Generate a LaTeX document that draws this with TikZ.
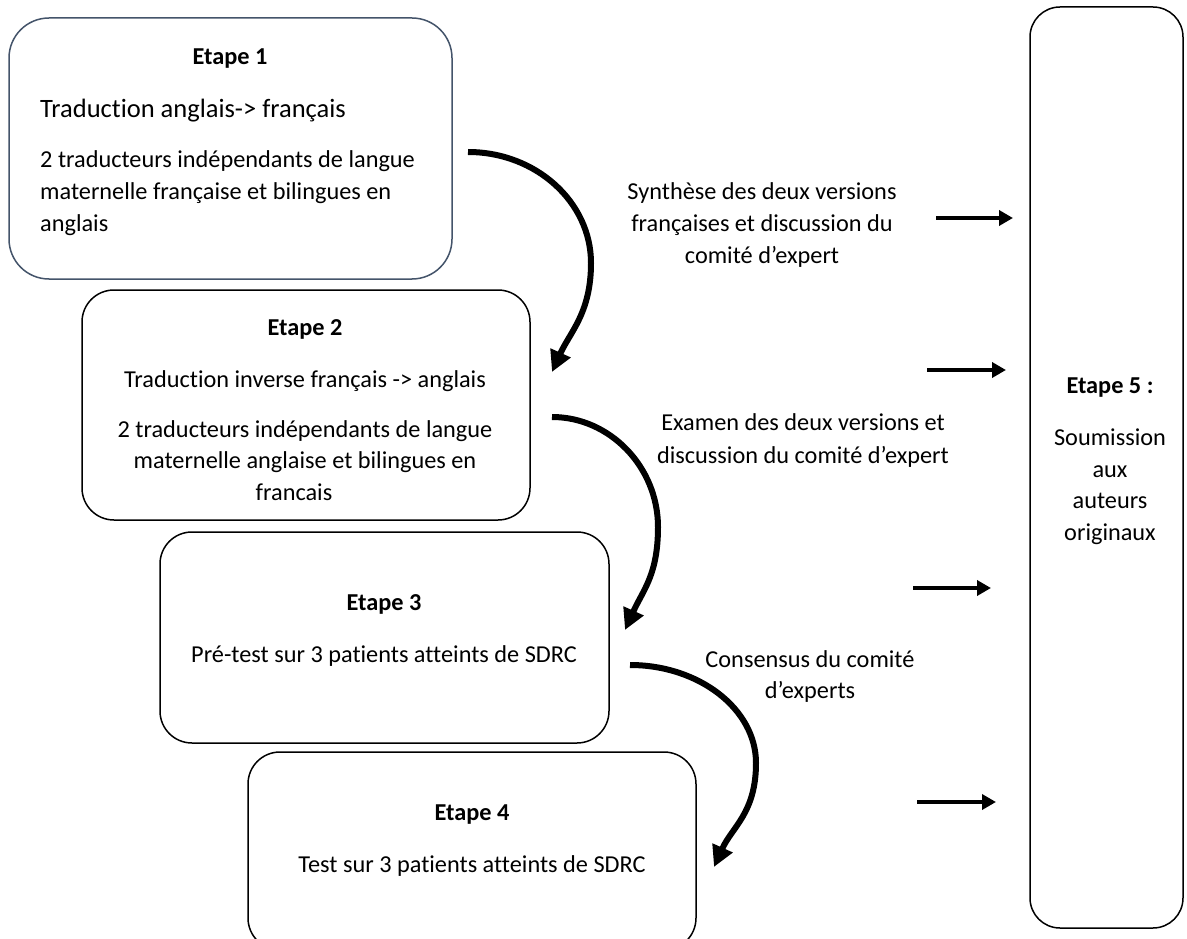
\documentclass[tikz,border=0pt]{standalone}
\usepackage{fontspec}
\setmainfont[Ligatures=NoCommon,RawFeature=-liga]{Carlito}
\usetikzlibrary{arrows.meta}
\definecolor{slate}{RGB}{68,84,106}
\tikzset{
  box/.style={draw=black, line width=1.5pt, rounded corners=32pt, rectangle, inner sep=0pt},
  txt/.style={anchor=base, inner sep=0pt, font=\fontsize{24.3}{32}\selectfont},
  ttl/.style={anchor=base, inner sep=0pt, font=\fontsize{24.3}{32}\selectfont\bfseries},
  curv/.style={line width=6pt, -{Triangle[length=21pt,width=21pt]}},
  strt/.style={line width=4pt, -{Triangle[length=14pt,width=15pt]}}
}
\begin{document}
\begin{tikzpicture}[x=1pt,y=-1pt]
\useasboundingbox (0,0) rectangle (1187,939);
\fill[white] (0,0) rectangle (1187,939);
\clip (0,0) rectangle (1187,939);

% boxes
\node[box, draw=slate, rounded corners=40pt, minimum width=443pt, minimum height=261pt] (b1) at (230.5,148.5) {};
\node[box, minimum width=448pt, minimum height=230pt] (b2) at (306,405) {};
\node[box, minimum width=449pt, minimum height=211pt] (b3) at (384.5,637.5) {};
\node[box, minimum width=448pt, minimum height=198pt] (b4) at (472,851) {};
\node[box, rounded corners=30pt, minimum width=153pt, minimum height=921pt] (b5) at (1106.5,467.5) {};

% box 1 text
\node[ttl] (t1a) at (230,65) {Etape 1};
\node[txt, anchor=base west, font=\fontsize{26.5}{32}\selectfont] (t1b) at (40,118) {Traduction anglais-> français};
\node[txt, anchor=base west] (t1c) at (40,168) {2 traducteurs indépendants de langue};
\node[txt, anchor=base west] (t1d) at (40,200) {maternelle française et bilingues en};
\node[txt, anchor=base west] (t1e) at (40,232) {anglais};

% box 2 text
\node[ttl] (t2a) at (305,335) {Etape 2};
\node[txt] (t2b) at (305,387) {Traduction inverse français -> anglais};
\node[txt] (t2c) at (305,437) {2 traducteurs indépendants de langue};
\node[txt] (t2d) at (305,468) {maternelle anglaise et bilingues en};
\node[txt] (t2e) at (294,500) {francais};

% box 3 text
\node[ttl] (t3a) at (384,610) {Etape 3};
\node[txt] (t3b) at (384,662) {Pré-test sur 3 patients atteints de SDRC};

% box 4 text
\node[ttl] (t4a) at (472,820) {Etape 4};
\node[txt] (t4b) at (472,872) {Test sur 3 patients atteints de SDRC};

% box 5 text
\node[ttl] (t5a) at (1110,393) {Etape 5 :};
\node[txt] (t5b) at (1110,445) {Soumission};
\node[txt] (t5c) at (1110,477) {aux};
\node[txt] (t5d) at (1110,508) {auteurs};
\node[txt] (t5e) at (1110,540) {originaux};

% side labels
\node[txt] (l1a) at (762,200) {Synthèse des deux versions};
\node[txt] (l1b) at (762,232) {françaises et discussion du};
\node[txt] (l1c) at (762,263) {comité d’expert};
\node[txt] (l2a) at (803,430) {Examen des deux versions et};
\node[txt] (l2b) at (803,463) {discussion du comité d’expert};
\node[txt] (l3a) at (810,667) {Consensus du comité};
\node[txt] (l3b) at (810,698) {d’experts};

% curved arrow end points
\coordinate (c1s) at (468,152);
\coordinate (c1e) at (552,372);
\coordinate (c2s) at (552,417);
\coordinate (c2e) at (625,630);
\coordinate (c3s) at (630,665);
\coordinate (c3e) at (714,867);

\draw[curv] (c1s) .. controls (536,152) and (591,202) .. (591,263) .. controls (591,313) and (570,332) .. (c1e);
\draw[curv] (c2s) .. controls (610,417) and (658,467) .. (658,527) .. controls (658,575) and (643,590) .. (c2e);
\draw[curv] (c3s) .. controls (699,665) and (756,709) .. (756,763) .. controls (756,813) and (732,827) .. (c3e);

% straight arrows
\coordinate (s1) at (936,218);
\coordinate (e1) at (1013,218);
\coordinate (s2) at (927,370);
\coordinate (e2) at (1006,370);
\coordinate (s3) at (913,588);
\coordinate (e3) at (991,588);
\coordinate (s4) at (917,802);
\coordinate (e4) at (996,802);
\draw[strt] (s1) -- (e1);
\draw[strt] (s2) -- (e2);
\draw[strt] (s3) -- (e3);
\draw[strt] (s4) -- (e4);
\end{tikzpicture}
\end{document}
